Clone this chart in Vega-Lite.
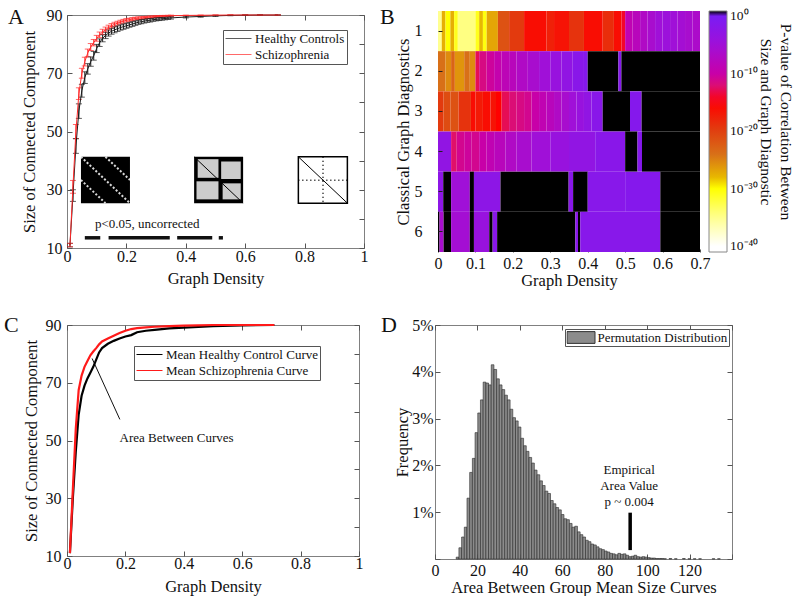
{
"$schema": "https://vega.github.io/schema/vega-lite/v6.json",
"padding": {"left": 3, "top": 5, "right": 0, "bottom": 0},
"background": "white",
"datasets": {
"acurve": [
{"g":"H","d":0.01,"v":11,"e":0.6},{"g":"H","d":0.02,"v":28,"e":2},{"g":"H","d":0.03,"v":45,"e":2.5},{"g":"H","d":0.04,"v":57,"e":2.5},{"g":"H","d":0.05,"v":64,"e":2.2},{"g":"H","d":0.06,"v":68.5,"e":2},{"g":"H","d":0.07,"v":71.5,"e":1.8},{"g":"H","d":0.08,"v":74,"e":1.6},{"g":"H","d":0.09,"v":76,"e":1.5},{"g":"H","d":0.1,"v":78.5,"e":1.4},{"g":"H","d":0.11,"v":80.5,"e":1.3},{"g":"H","d":0.12,"v":82,"e":1.2},{"g":"H","d":0.13,"v":83,"e":1.1},{"g":"H","d":0.14,"v":83.8,"e":1.05},{"g":"H","d":0.15,"v":84.4,"e":1},{"g":"H","d":0.16,"v":84.9,"e":1},{"g":"H","d":0.17,"v":85.3,"e":0.95},{"g":"H","d":0.18,"v":85.7,"e":0.9},{"g":"H","d":0.19,"v":86,"e":0.9},{"g":"H","d":0.2,"v":86.3,"e":0.85},{"g":"H","d":0.21,"v":86.6,"e":0.8},{"g":"H","d":0.22,"v":86.9,"e":0.8},{"g":"H","d":0.23,"v":87.2,"e":0.75},{"g":"H","d":0.24,"v":87.5,"e":0.7},{"g":"H","d":0.25,"v":87.7,"e":0.7},{"g":"H","d":0.26,"v":87.9,"e":0.65},{"g":"H","d":0.27,"v":88.1,"e":0.6},{"g":"H","d":0.28,"v":88.2,"e":0.6},{"g":"H","d":0.29,"v":88.4,"e":0.55},{"g":"H","d":0.3,"v":88.5,"e":0.5},{"g":"H","d":0.31,"v":88.6,"e":0.5},{"g":"H","d":0.32,"v":88.7,"e":0.45},{"g":"H","d":0.33,"v":88.8,"e":0.45},{"g":"H","d":0.34,"v":88.9,"e":0.4},{"g":"H","d":0.35,"v":89,"e":0.4},{"g":"H","d":0.4,"v":89.3,"e":0.3},{"g":"H","d":0.45,"v":89.5,"e":0.25},{"g":"H","d":0.5,"v":89.7,"e":0.2},{"g":"H","d":0.55,"v":89.85,"e":0.1},{"g":"H","d":0.6,"v":89.95,"e":0.05},{"g":"H","d":0.65,"v":90,"e":0},{"g":"H","d":0.71,"v":90,"e":0},
{"g":"S","d":0.01,"v":11,"e":0.6},{"g":"S","d":0.02,"v":31,"e":2.2},{"g":"S","d":0.03,"v":50,"e":2.4},{"g":"S","d":0.04,"v":63,"e":2},{"g":"S","d":0.05,"v":70,"e":1.7},{"g":"S","d":0.06,"v":74,"e":1.5},{"g":"S","d":0.07,"v":77,"e":1.3},{"g":"S","d":0.08,"v":79,"e":1.2},{"g":"S","d":0.09,"v":80.5,"e":1.1},{"g":"S","d":0.1,"v":82,"e":1},{"g":"S","d":0.11,"v":83.2,"e":0.95},{"g":"S","d":0.12,"v":84.2,"e":0.9},{"g":"S","d":0.13,"v":85,"e":0.85},{"g":"S","d":0.14,"v":85.7,"e":0.8},{"g":"S","d":0.15,"v":86.3,"e":0.75},{"g":"S","d":0.16,"v":86.8,"e":0.7},{"g":"S","d":0.17,"v":87.2,"e":0.65},{"g":"S","d":0.18,"v":87.6,"e":0.6},{"g":"S","d":0.19,"v":87.9,"e":0.6},{"g":"S","d":0.2,"v":88.2,"e":0.55},{"g":"S","d":0.21,"v":88.4,"e":0.5},{"g":"S","d":0.22,"v":88.6,"e":0.5},{"g":"S","d":0.23,"v":88.8,"e":0.45},{"g":"S","d":0.24,"v":88.9,"e":0.45},{"g":"S","d":0.25,"v":89,"e":0.4},{"g":"S","d":0.26,"v":89.1,"e":0.4},{"g":"S","d":0.27,"v":89.2,"e":0.35},{"g":"S","d":0.28,"v":89.3,"e":0.35},{"g":"S","d":0.29,"v":89.4,"e":0.3},{"g":"S","d":0.3,"v":89.5,"e":0.3},{"g":"S","d":0.31,"v":89.55,"e":0.25},{"g":"S","d":0.32,"v":89.6,"e":0.25},{"g":"S","d":0.33,"v":89.65,"e":0.2},{"g":"S","d":0.34,"v":89.7,"e":0.2},{"g":"S","d":0.35,"v":89.75,"e":0.2},{"g":"S","d":0.4,"v":89.85,"e":0.1},{"g":"S","d":0.45,"v":89.9,"e":0.1},{"g":"S","d":0.5,"v":89.95,"e":0.05},{"g":"S","d":0.55,"v":90,"e":0},{"g":"S","d":0.6,"v":90,"e":0},{"g":"S","d":0.65,"v":90,"e":0},{"g":"S","d":0.71,"v":90,"e":0}
],
"ccurve": [
{"g":"H","d":0.01,"v":11},{"g":"H","d":0.02,"v":30},{"g":"H","d":0.03,"v":46},{"g":"H","d":0.04,"v":59},{"g":"H","d":0.05,"v":65.5},{"g":"H","d":0.06,"v":69},{"g":"H","d":0.07,"v":71.5},{"g":"H","d":0.08,"v":73.5},{"g":"H","d":0.09,"v":75.5},{"g":"H","d":0.1,"v":78},{"g":"H","d":0.11,"v":80.5},{"g":"H","d":0.12,"v":82},{"g":"H","d":0.14,"v":83.5},{"g":"H","d":0.16,"v":84.5},{"g":"H","d":0.18,"v":85.3},{"g":"H","d":0.2,"v":86},{"g":"H","d":0.22,"v":86.5},{"g":"H","d":0.24,"v":87.5},{"g":"H","d":0.27,"v":88},{"g":"H","d":0.3,"v":88.3},{"g":"H","d":0.35,"v":88.8},{"g":"H","d":0.4,"v":89.1},{"g":"H","d":0.45,"v":89.3},{"g":"H","d":0.5,"v":89.6},{"g":"H","d":0.6,"v":89.9},{"g":"H","d":0.71,"v":90},
{"g":"S","d":0.01,"v":11},{"g":"S","d":0.02,"v":33},{"g":"S","d":0.03,"v":54},{"g":"S","d":0.04,"v":67.5},{"g":"S","d":0.05,"v":72.5},{"g":"S","d":0.06,"v":75.5},{"g":"S","d":0.07,"v":77.5},{"g":"S","d":0.08,"v":79.5},{"g":"S","d":0.09,"v":80.8},{"g":"S","d":0.1,"v":82},{"g":"S","d":0.11,"v":83.3},{"g":"S","d":0.12,"v":84.3},{"g":"S","d":0.14,"v":85.3},{"g":"S","d":0.16,"v":86.3},{"g":"S","d":0.18,"v":87.2},{"g":"S","d":0.2,"v":88},{"g":"S","d":0.22,"v":88.6},{"g":"S","d":0.24,"v":88.9},{"g":"S","d":0.27,"v":89.2},{"g":"S","d":0.3,"v":89.4},{"g":"S","d":0.35,"v":89.6},{"g":"S","d":0.4,"v":89.8},{"g":"S","d":0.45,"v":89.9},{"g":"S","d":0.5,"v":90},{"g":"S","d":0.6,"v":90},{"g":"S","d":0.71,"v":90}
],
"ainset": [
{"id":1,"a":0.047,"b":0.212,"lo":25.4,"hi":41.3},
{"id":2,"a":0.428,"b":0.593,"lo":25.4,"hi":41.3},
{"id":3,"a":0.779,"b":0.944,"lo":25.4,"hi":41.3}
],
"apatch": [
{"a":0.44,"b":0.51,"lo":34.1,"hi":40.5},
{"a":0.519,"b":0.585,"lo":33.7,"hi":39.7},
{"a":0.436,"b":0.51,"lo":26.7,"hi":32.9},
{"a":0.524,"b":0.585,"lo":26.7,"hi":32.2}
],
"adiag": [
{"k":"w","x":0.047,"y":41.3,"x2":0.212,"y2":25.4},
{"k":"w","x":0.1295,"y":41.3,"x2":0.212,"y2":33.35},
{"k":"w","x":0.047,"y":33.35,"x2":0.1295,"y2":25.4},
{"k":"k","x":0.428,"y":41.3,"x2":0.593,"y2":25.4},
{"k":"k","x":0.779,"y":41.3,"x2":0.944,"y2":25.4},
{"k":"d","x":0.779,"y":33.3,"x2":0.944,"y2":33.3},
{"k":"d","x":0.862,"y":41.3,"x2":0.862,"y2":25.4}
],
"aseg": [
{"a":0.06,"b":0.112,"y":13.5},{"a":0.14,"b":0.346,"y":13.5},{"a":0.371,"b":0.489,"y":13.5},{"a":0.511,"b":0.525,"y":13.5}
],
"heat": [
{"r":1,"a":0,"b":0.01,"v":-35},{"r":1,"a":0.01,"b":0.02,"v":-27.5},{"r":1,"a":0.02,"b":0.033,"v":-30},{"r":1,"a":0.033,"b":0.043,"v":-27.5},{"r":1,"a":0.043,"b":0.053,"v":-31},{"r":1,"a":0.053,"b":0.1,"v":-34.5},{"r":1,"a":0.1,"b":0.11,"v":-31},{"r":1,"a":0.11,"b":0.12,"v":-28},{"r":1,"a":0.12,"b":0.13,"v":-30.5},{"r":1,"a":0.13,"b":0.16,"v":-27},{"r":1,"a":0.16,"b":0.19,"v":-21.5},{"r":1,"a":0.19,"b":0.23,"v":-19.5},{"r":1,"a":0.23,"b":0.29,"v":-16},{"r":1,"a":0.29,"b":0.31,"v":-17.5},{"r":1,"a":0.31,"b":0.35,"v":-16.5},{"r":1,"a":0.35,"b":0.39,"v":-19},{"r":1,"a":0.39,"b":0.44,"v":-16},{"r":1,"a":0.44,"b":0.47,"v":-18.5},{"r":1,"a":0.47,"b":0.49,"v":-16},{"r":1,"a":0.49,"b":0.5,"v":-14},{"r":1,"a":0.5,"b":0.52,"v":-9},{"r":1,"a":0.52,"b":0.54,"v":-8},{"r":1,"a":0.54,"b":0.56,"v":-7},{"r":1,"a":0.56,"b":0.58,"v":-6},{"r":1,"a":0.58,"b":0.6,"v":-5},{"r":1,"a":0.6,"b":0.62,"v":-4.5},{"r":1,"a":0.62,"b":0.64,"v":-5},{"r":1,"a":0.64,"b":0.66,"v":-5.5},{"r":1,"a":0.66,"b":0.68,"v":-6},{"r":1,"a":0.68,"b":0.7,"v":-6.5},
{"r":2,"a":0,"b":0.02,"v":-24},{"r":2,"a":0.02,"b":0.035,"v":-25.5},{"r":2,"a":0.035,"b":0.045,"v":-23},{"r":2,"a":0.045,"b":0.07,"v":-26},{"r":2,"a":0.07,"b":0.085,"v":-24},{"r":2,"a":0.085,"b":0.1,"v":-25.5},{"r":2,"a":0.1,"b":0.11,"v":-13},{"r":2,"a":0.11,"b":0.13,"v":-11.5},{"r":2,"a":0.13,"b":0.15,"v":-10.5},{"r":2,"a":0.15,"b":0.17,"v":-9.5},{"r":2,"a":0.17,"b":0.19,"v":-8.5},{"r":2,"a":0.19,"b":0.21,"v":-8},{"r":2,"a":0.21,"b":0.24,"v":-7},{"r":2,"a":0.24,"b":0.27,"v":-6},{"r":2,"a":0.27,"b":0.3,"v":-5},{"r":2,"a":0.3,"b":0.33,"v":-4},{"r":2,"a":0.33,"b":0.36,"v":-3},{"r":2,"a":0.36,"b":0.39,"v":-2},{"r":2,"a":0.39,"b":0.4,"v":-1.5},{"r":2,"a":0.4,"b":0.482,"v":0.9},{"r":2,"a":0.482,"b":0.49,"v":-1.5},{"r":2,"a":0.49,"b":0.7,"v":0.9},
{"r":3,"a":0,"b":0.015,"v":-19.5},{"r":3,"a":0.015,"b":0.033,"v":-21},{"r":3,"a":0.033,"b":0.055,"v":-21.5},{"r":3,"a":0.055,"b":0.088,"v":-19},{"r":3,"a":0.088,"b":0.1,"v":-16},{"r":3,"a":0.1,"b":0.12,"v":-17},{"r":3,"a":0.12,"b":0.14,"v":-16},{"r":3,"a":0.14,"b":0.155,"v":-16.5},{"r":3,"a":0.155,"b":0.17,"v":-15},{"r":3,"a":0.17,"b":0.19,"v":-13},{"r":3,"a":0.19,"b":0.21,"v":-12},{"r":3,"a":0.21,"b":0.23,"v":-11.5},{"r":3,"a":0.23,"b":0.25,"v":-11},{"r":3,"a":0.25,"b":0.27,"v":-10},{"r":3,"a":0.27,"b":0.29,"v":-9},{"r":3,"a":0.29,"b":0.31,"v":-8},{"r":3,"a":0.31,"b":0.33,"v":-7},{"r":3,"a":0.33,"b":0.35,"v":-6},{"r":3,"a":0.35,"b":0.37,"v":-5},{"r":3,"a":0.37,"b":0.39,"v":-4},{"r":3,"a":0.39,"b":0.41,"v":-3},{"r":3,"a":0.41,"b":0.44,"v":-2},{"r":3,"a":0.44,"b":0.513,"v":0.9},{"r":3,"a":0.513,"b":0.544,"v":-1.5},{"r":3,"a":0.544,"b":0.7,"v":0.9},
{"r":4,"a":0,"b":0.035,"v":-3},{"r":4,"a":0.035,"b":0.05,"v":-12.5},{"r":4,"a":0.05,"b":0.07,"v":-11},{"r":4,"a":0.07,"b":0.09,"v":-10.5},{"r":4,"a":0.09,"b":0.11,"v":-11},{"r":4,"a":0.11,"b":0.13,"v":-10},{"r":4,"a":0.13,"b":0.15,"v":-9},{"r":4,"a":0.15,"b":0.18,"v":-8},{"r":4,"a":0.18,"b":0.21,"v":-7},{"r":4,"a":0.21,"b":0.25,"v":-6},{"r":4,"a":0.25,"b":0.3,"v":-5},{"r":4,"a":0.3,"b":0.35,"v":-4},{"r":4,"a":0.35,"b":0.42,"v":-3},{"r":4,"a":0.42,"b":0.5,"v":-2},{"r":4,"a":0.5,"b":0.533,"v":0.9},{"r":4,"a":0.533,"b":0.545,"v":-1.5},{"r":4,"a":0.545,"b":0.7,"v":0.9},
{"r":5,"a":0,"b":0.014,"v":-2.5},{"r":5,"a":0.014,"b":0.035,"v":0.9},{"r":5,"a":0.035,"b":0.085,"v":-5},{"r":5,"a":0.085,"b":0.096,"v":0.9},{"r":5,"a":0.096,"b":0.167,"v":-2.5},{"r":5,"a":0.167,"b":0.349,"v":0.9},{"r":5,"a":0.349,"b":0.361,"v":-2},{"r":5,"a":0.361,"b":0.4,"v":0.9},{"r":5,"a":0.4,"b":0.5,"v":-1.8},{"r":5,"a":0.5,"b":0.594,"v":-1.5},{"r":5,"a":0.594,"b":0.7,"v":0.9},
{"r":6,"a":0,"b":0.004,"v":0.9},{"r":6,"a":0.004,"b":0.015,"v":-6},{"r":6,"a":0.015,"b":0.035,"v":0.9},{"r":6,"a":0.035,"b":0.085,"v":-5.5},{"r":6,"a":0.085,"b":0.096,"v":0.9},{"r":6,"a":0.096,"b":0.137,"v":-4},{"r":6,"a":0.137,"b":0.146,"v":0.9},{"r":6,"a":0.146,"b":0.158,"v":-2},{"r":6,"a":0.158,"b":0.367,"v":0.9},{"r":6,"a":0.367,"b":0.374,"v":-2},{"r":6,"a":0.374,"b":0.38,"v":0.9},{"r":6,"a":0.38,"b":0.594,"v":-1.8},{"r":6,"a":0.594,"b":0.7,"v":0.9}
],
"hist": [
{"a":10.00,"b":11.27,"f":0.04},{"a":11.27,"b":12.54,"f":0.24},{"a":12.54,"b":13.81,"f":0.47},{"a":13.81,"b":15.08,"f":0.68},{"a":15.08,"b":16.35,"f":1.30},{"a":16.35,"b":17.62,"f":1.85},{"a":17.62,"b":18.89,"f":2.15},{"a":18.89,"b":20.16,"f":2.70},{"a":20.16,"b":21.43,"f":3.12},{"a":21.43,"b":22.70,"f":3.40},
{"a":22.70,"b":23.97,"f":3.78},{"a":23.97,"b":25.24,"f":3.76},{"a":25.24,"b":26.51,"f":3.72},{"a":26.51,"b":27.78,"f":4.15},{"a":27.78,"b":29.05,"f":4.05},{"a":29.05,"b":30.32,"f":3.85},{"a":30.32,"b":31.59,"f":3.72},{"a":31.59,"b":32.86,"f":3.62},{"a":32.86,"b":34.13,"f":3.50},{"a":34.13,"b":35.40,"f":3.40},
{"a":35.40,"b":36.67,"f":3.20},{"a":36.67,"b":37.94,"f":3.02},{"a":37.94,"b":39.21,"f":2.95},{"a":39.21,"b":40.48,"f":2.82},{"a":40.48,"b":41.75,"f":2.58},{"a":41.75,"b":43.02,"f":2.42},{"a":43.02,"b":44.29,"f":2.30},{"a":44.29,"b":45.56,"f":2.17},{"a":45.56,"b":46.83,"f":2.05},{"a":46.83,"b":48.10,"f":1.90},
{"a":48.10,"b":49.37,"f":1.80},{"a":49.37,"b":50.64,"f":1.67},{"a":50.64,"b":51.91,"f":1.57},{"a":51.91,"b":53.18,"f":1.45},{"a":53.18,"b":54.45,"f":1.40},{"a":54.45,"b":55.72,"f":1.25},{"a":55.72,"b":56.99,"f":1.18},{"a":56.99,"b":58.26,"f":1.10},{"a":58.26,"b":59.53,"f":1.05},{"a":59.53,"b":60.80,"f":0.95},
{"a":60.80,"b":62.07,"f":0.86},{"a":62.07,"b":63.34,"f":0.84},{"a":63.34,"b":64.61,"f":0.76},{"a":64.61,"b":65.88,"f":0.68},{"a":65.88,"b":67.15,"f":0.70},{"a":67.15,"b":68.42,"f":0.58},{"a":68.42,"b":69.69,"f":0.52},{"a":69.69,"b":70.96,"f":0.47},{"a":70.96,"b":72.23,"f":0.40},{"a":72.23,"b":73.50,"f":0.37},
{"a":73.50,"b":74.77,"f":0.32},{"a":74.77,"b":76.04,"f":0.30},{"a":76.04,"b":77.31,"f":0.26},{"a":77.31,"b":78.58,"f":0.22},{"a":78.58,"b":79.85,"f":0.20},{"a":79.85,"b":81.12,"f":0.17},{"a":81.12,"b":82.39,"f":0.15},{"a":82.39,"b":83.66,"f":0.12},{"a":83.66,"b":84.93,"f":0.11},{"a":84.93,"b":86.20,"f":0.09},
{"a":86.20,"b":87.47,"f":0.12},{"a":87.47,"b":88.74,"f":0.10},{"a":88.74,"b":90.01,"f":0.11},{"a":90.01,"b":91.28,"f":0.08},{"a":91.28,"b":92.55,"f":0.05},{"a":92.55,"b":93.82,"f":0.06},{"a":93.82,"b":95.09,"f":0.08},{"a":95.09,"b":96.36,"f":0.05},{"a":96.36,"b":97.63,"f":0.04},{"a":97.63,"b":98.90,"f":0.05},
{"a":98.90,"b":100.17,"f":0.04},{"a":100.17,"b":101.44,"f":0.03},{"a":101.44,"b":102.71,"f":0.02},{"a":102.71,"b":103.98,"f":0.02},{"a":103.98,"b":105.25,"f":0.01},{"a":105.25,"b":106.52,"f":0.01},{"a":106.52,"b":107.79,"f":0.01},{"a":107.79,"b":109.06,"f":0.005},{"a":110.33,"b":111.60,"f":0.01},{"a":112.87,"b":114.14,"f":0.005},
{"a":116.68,"b":117.95,"f":0.01},{"a":119.22,"b":120.49,"f":0.005},{"a":121.76,"b":123.03,"f":0.005},{"a":124.30,"b":125.57,"f":0.005},{"a":130.65,"b":131.92,"f":0.005},{"a":133.19,"b":134.46,"f":0.005}
]
},
"vconcat": [
{
"bounds": "flush",
"center": true,
"hconcat": [
{
"width": 297, "height": 233,
"title": {"text": "A", "dx": -59, "dy": 26},
"resolve": {"axis": {"x": "independent", "y": "independent"}},
"layer": [
{"layer": [
{"data": {"name": "ainset"}, "transform": [{"filter": "datum.id < 3"}], "mark": {"type": "rect", "fill": "#000"},
 "encoding": {"x": {"field": "a", "type": "quantitative"}, "x2": {"field": "b"}, "y": {"field": "lo", "type": "quantitative"}, "y2": {"field": "hi"}}},
{"data": {"name": "ainset"}, "transform": [{"filter": "datum.id == 3"}], "mark": {"type": "rect", "fill": "#fff", "stroke": "#000", "strokeWidth": 1.5},
 "encoding": {"x": {"field": "a", "type": "quantitative"}, "x2": {"field": "b"}, "y": {"field": "lo", "type": "quantitative"}, "y2": {"field": "hi"}}},
{"data": {"name": "apatch"}, "mark": {"type": "rect", "fill": "#fff", "opacity": 0.8},
 "encoding": {"x": {"field": "a", "type": "quantitative"}, "x2": {"field": "b"}, "y": {"field": "lo", "type": "quantitative"}, "y2": {"field": "hi"}}},
{"data": {"name": "adiag"}, "transform": [{"filter": "datum.k == 'w'"}], "mark": {"type": "rule", "stroke": "#fff", "strokeWidth": 2, "strokeDash": [2, 2], "opacity": 0.85},
 "encoding": {"x": {"field": "x", "type": "quantitative"}, "x2": {"field": "x2"}, "y": {"field": "y", "type": "quantitative"}, "y2": {"field": "y2"}}},
{"data": {"name": "adiag"}, "transform": [{"filter": "datum.k == 'k'"}], "mark": {"type": "rule", "stroke": "#000", "strokeWidth": 1},
 "encoding": {"x": {"field": "x", "type": "quantitative"}, "x2": {"field": "x2"}, "y": {"field": "y", "type": "quantitative"}, "y2": {"field": "y2"}}},
{"data": {"name": "adiag"}, "transform": [{"filter": "datum.k == 'd'"}], "mark": {"type": "rule", "stroke": "#000", "strokeWidth": 1.5, "strokeDash": [1, 3]},
 "encoding": {"x": {"field": "x", "type": "quantitative"}, "x2": {"field": "x2"}, "y": {"field": "y", "type": "quantitative"}, "y2": {"field": "y2"}}},
{"data": {"name": "aseg"}, "mark": {"type": "rule", "stroke": "#111", "strokeWidth": 3.5},
 "encoding": {"x": {"field": "a", "type": "quantitative"}, "x2": {"field": "b"}, "y": {"field": "y", "type": "quantitative"}}},
{"data": {"values": [{"x": 0.27, "y": 18.2, "t": "p<0.05, uncorrected"}]}, "mark": {"type": "text", "fontSize": 13, "align": "center", "baseline": "middle", "color": "#111"},
 "encoding": {"x": {"field": "x", "type": "quantitative"}, "y": {"field": "y", "type": "quantitative"}, "text": {"field": "t"}}},
{"data": {"name": "acurve"}, "mark": {"type": "errorbar", "ticks": {"size": 6}, "thickness": 1},
 "encoding": {"x": {"field": "d", "type": "quantitative", "title": "Graph Density"}, "y": {"field": "v", "type": "quantitative", "title": "Size of Connected Component"}, "yError": {"field": "e"}, "color": {"field": "g", "type": "nominal"}}},
{"data": {"name": "acurve"}, "mark": {"type": "line", "strokeWidth": 1},
 "encoding": {
  "x": {"field": "d", "type": "quantitative", "scale": {"domain": [0, 1], "nice": false}, "axis": {"values": [0, 0.2, 0.4, 0.6, 0.8, 1], "format": "~g", "title": "Graph Density", "labelPadding": 5, "titlePadding": 6}},
  "y": {"field": "v", "type": "quantitative", "scale": {"domain": [10, 90], "nice": false, "zero": false}, "axis": {"values": [10, 20, 30, 40, 50, 60, 70, 80, 90], "labelExpr": "datum.value % 20 == 10 ? datum.label : ''", "title": "Size of Connected Component", "labelPadding": 10, "titlePadding": 9}},
  "color": {"field": "g", "type": "nominal", "scale": {"domain": ["H", "S"], "range": ["#1a1a1a", "#ff2a2a"]},
   "legend": {"title": null, "orient": "none", "legendX": 156, "legendY": 15, "symbolType": "stroke", "symbolSize": 676, "symbolStrokeWidth": 1, "clipHeight": 13, "rowPadding": 2, "padding": 2, "labelOffset": 3, "labelFontSize": 13, "strokeColor": "#555", "fillColor": "#fff", "labelExpr": "datum.label == 'H' ? 'Healthy Controls' : 'Schizophrenia'"}}
 }}
]},
{"data": {"name": "acurve"}, "mark": {"type": "point", "opacity": 0},
 "encoding": {
  "x": {"field": "d", "type": "quantitative", "scale": {"domain": [0, 1], "nice": false}, "axis": {"orient": "top", "labels": false, "title": null, "values": [0, 0.2, 0.4, 0.6, 0.8, 1]}},
  "y": {"field": "v", "type": "quantitative", "scale": {"domain": [10, 90], "nice": false, "zero": false}, "axis": {"orient": "right", "labels": false, "title": null, "values": [10, 20, 30, 40, 50, 60, 70, 80, 90]}}
 }}
]
},
{
"width": 262, "height": 241,
"title": {"text": "B", "dx": -58, "dy": 22},
"view": {"stroke": null},
"data": {"name": "heat"},
"mark": {"type": "rect"},
"encoding": {
 "x": {"field": "a", "type": "quantitative", "scale": {"domain": [0, 0.7], "nice": false}, "axis": {"values": [0, 0.1, 0.2, 0.3, 0.4, 0.5, 0.6, 0.7], "format": "~g", "title": "Graph Density", "tickSize": -3, "labelPadding": 6, "titlePadding": 1}},
 "x2": {"field": "b"},
 "y": {"field": "r", "type": "ordinal", "scale": {"paddingInner": 0, "paddingOuter": 0}, "axis": {"title": "Classical Graph Diagnostics", "labelAngle": 0, "tickSize": -4, "tickColor": "#222", "labelPadding": 20, "titlePadding": 3}},
 "color": {"field": "v", "type": "quantitative",
  "scale": {"domain": [-41, -40, -35, -30, -28, -24, -20, -15, -12.5, -10, -5, 0, 0.9], "range": ["#ffffff", "#ffffff", "#ffff90", "#ffff00", "#e8b800", "#d87018", "#e04010", "#ff0000", "#e0106a", "#c800a8", "#a010d8", "#7a1cf4", "#000000"], "interpolate": "rgb", "clamp": true, "nice": false, "zero": false},
  "legend": {"type": "gradient", "title": ["P-value of Correlation Between", "Size and Graph Diagnostic"], "orient": "right", "direction": "vertical", "offset": 9, "padding": 0, "gradientLength": 241, "gradientThickness": 18, "gradientStrokeColor": "#888", "gradientStrokeWidth": 1, "values": [0, -10, -20, -30, -40], "labelExpr": "datum.value == 0 ? '10⁰' : datum.value == -10 ? '10⁻¹⁰' : datum.value == -20 ? '10⁻²⁰' : datum.value == -30 ? '10⁻³⁰' : '10⁻⁴⁰'", "labelFontSize": 13.5, "labelOffset": 3, "labelBaseline": "middle", "labelOverlap": false, "titleOrient": "right", "titleFontSize": 15.5, "titleFontWeight": "normal", "titleLineHeight": 20, "titlePadding": 20, "titleAnchor": "middle", "titleLimit": 400}}
}
}
],
"spacing": 74,
"resolve": {"scale": {"color": "independent"}, "legend": {"color": "independent"}}
},
{
"hconcat": [
{
"width": 292, "height": 231,
"title": {"text": "C", "dx": -63, "dy": 24},
"resolve": {"axis": {"x": "independent", "y": "independent"}},
"layer": [
{"layer": [
{"data": {"values": [{"x": 0.181, "y": 57.3, "x2": 0.086, "y2": 78.4}]}, "mark": {"type": "rule", "color": "#111", "strokeWidth": 1},
 "encoding": {"x": {"field": "x", "type": "quantitative"}, "x2": {"field": "x2"}, "y": {"field": "y", "type": "quantitative"}, "y2": {"field": "y2"}}},
{"data": {"values": [{"x": 0.18, "y": 51, "t": "Area Between Curves"}]}, "mark": {"type": "text", "fontSize": 13, "align": "left", "baseline": "middle", "color": "#111"},
 "encoding": {"x": {"field": "x", "type": "quantitative"}, "y": {"field": "y", "type": "quantitative"}, "text": {"field": "t"}}},
{"data": {"name": "ccurve"}, "mark": {"type": "line", "strokeWidth": 2.2},
 "encoding": {
  "x": {"field": "d", "type": "quantitative", "scale": {"domain": [0, 1], "nice": false}, "axis": {"values": [0, 0.2, 0.4, 0.6, 0.8, 1], "format": "~g", "title": "Graph Density", "labelPadding": 4, "titlePadding": 7}},
  "y": {"field": "v", "type": "quantitative", "scale": {"domain": [10, 90], "nice": false, "zero": false}, "axis": {"values": [10, 20, 30, 40, 50, 60, 70, 80, 90], "labelExpr": "datum.value % 20 == 10 ? datum.label : ''", "title": "Size of Connected Component", "labelPadding": 11, "titlePadding": 6}},
  "color": {"field": "g", "type": "nominal", "scale": {"domain": ["H", "S"], "range": ["#000000", "#ff1a1a"]},
   "legend": {"title": null, "orient": "none", "legendX": 67, "legendY": 21, "symbolType": "stroke", "symbolSize": 676, "symbolStrokeWidth": 1, "clipHeight": 13, "rowPadding": 2, "padding": 2, "labelOffset": 3, "labelFontSize": 13, "strokeColor": "#555", "fillColor": "#fff", "labelExpr": "datum.label == 'H' ? 'Mean Healthy Control Curve' : 'Mean Schizophrenia Curve'"}}
 }}
]},
{"data": {"name": "ccurve"}, "mark": {"type": "point", "opacity": 0},
 "encoding": {
  "x": {"field": "d", "type": "quantitative", "scale": {"domain": [0, 1], "nice": false}, "axis": {"orient": "top", "labels": false, "title": null, "values": [0, 0.2, 0.4, 0.6, 0.8, 1]}},
  "y": {"field": "v", "type": "quantitative", "scale": {"domain": [10, 90], "nice": false, "zero": false}, "axis": {"orient": "right", "labels": false, "title": null, "values": [10, 20, 30, 40, 50, 60, 70, 80, 90]}}
 }}
]
},
{
"width": 297, "height": 234,
"title": {"text": "D", "dx": -54, "dy": 24},
"resolve": {"axis": {"x": "independent", "y": "independent"}},
"layer": [
{"layer": [
{"data": {"name": "hist"}, "mark": {"type": "rect", "stroke": "#2a2a2a", "strokeWidth": 0.6},
 "encoding": {
  "x": {"field": "a", "type": "quantitative", "scale": {"domain": [0, 140], "nice": false}, "axis": {"values": [0, 20, 40, 60, 80, 100, 120, 140], "labelExpr": "datum.value == 140 ? '' : datum.label", "title": "Area Between Group Mean Size Curves", "labelPadding": 8, "titlePadding": 1}},
  "x2": {"field": "b"},
  "y": {"field": "f", "type": "quantitative", "scale": {"domain": [0, 5], "nice": false}, "axis": {"values": [0, 1, 2, 3, 4, 5], "labelExpr": "datum.value == 0 ? '' : datum.value + '%'", "title": "Frequency", "labelPadding": 7, "titlePadding": 1}},
  "y2": {"datum": 0},
  "color": {"datum": "Permutation Distribution", "type": "nominal", "scale": {"range": ["#8c8c8c"]},
   "legend": {"title": null, "orient": "none", "legendX": 130, "legendY": 4, "symbolType": "M-1,-0.42H1V0.42H-1Z", "symbolSize": 784, "symbolStrokeColor": "#333", "symbolStrokeWidth": 1, "symbolOpacity": 1, "clipHeight": 14, "padding": 1.5, "labelOffset": 2, "labelFontSize": 13, "strokeColor": "#555", "fillColor": "#fff"}}
 }},
{"data": {"values": [{"x": 92, "y": 0.19, "y2": 0.99}]}, "mark": {"type": "rule", "color": "#000", "strokeWidth": 3.5},
 "encoding": {"x": {"field": "x", "type": "quantitative"}, "y": {"field": "y", "type": "quantitative"}, "y2": {"field": "y2"}}},
{"data": {"values": [{"x": 91.5, "y": 2.03, "t": "Empirical|Area Value|p ~ 0.004"}]}, "mark": {"type": "text", "lineBreak": "|", "fontSize": 13, "lineHeight": 16, "align": "center", "baseline": "top", "color": "#111"},
 "encoding": {"x": {"field": "x", "type": "quantitative"}, "y": {"field": "y", "type": "quantitative"}, "text": {"field": "t"}}}
]},
{"data": {"name": "hist"}, "mark": {"type": "point", "opacity": 0},
 "encoding": {
  "x": {"field": "a", "type": "quantitative", "scale": {"domain": [0, 140], "nice": false}, "axis": {"orient": "top", "labels": false, "title": null, "values": [0, 20, 40, 60, 80, 100, 120, 140]}},
  "y": {"field": "f", "type": "quantitative", "scale": {"domain": [0, 5], "nice": false}, "axis": {"orient": "right", "labels": false, "title": null, "values": [0, 1, 2, 3, 4, 5]}}
 }}
]
}
],
"spacing": 16,
"resolve": {"scale": {"color": "independent"}, "legend": {"color": "independent"}}
}
],
"spacing": 24,
"resolve": {"scale": {"color": "independent"}, "legend": {"color": "independent"}},
"config": {
 "font": "Liberation Serif",
 "view": {"stroke": "#808080", "strokeWidth": 1},
 "axis": {"labelFont": "Liberation Serif", "titleFont": "Liberation Serif", "labelFontSize": 16, "titleFontSize": 16.5, "titleFontWeight": "normal", "labelColor": "#111", "titleColor": "#111", "domain": false, "grid": false, "tickColor": "#555", "tickSize": -5, "labelFlush": false, "labelOverlap": false, "labelBound": false},
 "legend": {"labelFont": "Liberation Serif", "titleFont": "Liberation Serif", "labelColor": "#111", "titleColor": "#111", "labelLimit": 400},
 "title": {"font": "Liberation Serif", "fontSize": 22, "fontWeight": "normal", "anchor": "start", "frame": "group", "offset": 0, "baseline": "alphabetic", "color": "#111"},
 "text": {"font": "Liberation Serif"}
}
}
